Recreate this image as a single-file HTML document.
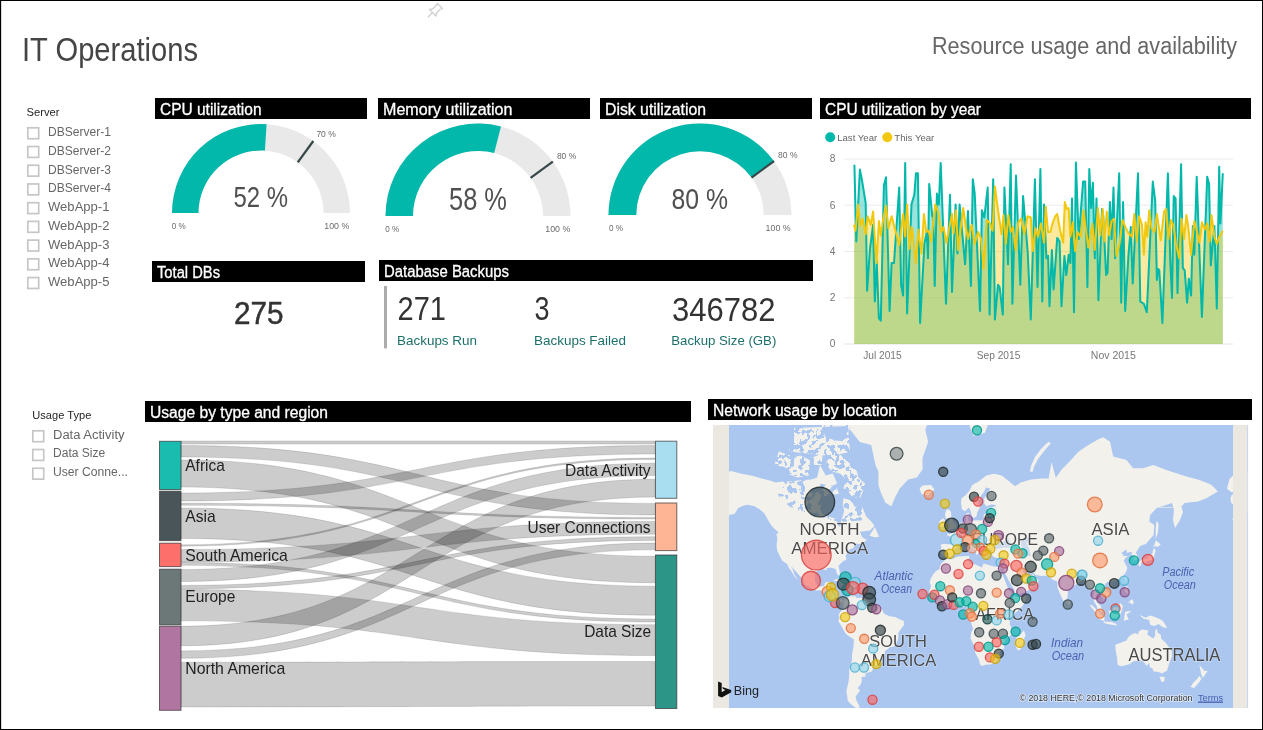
<!DOCTYPE html>
<html><head><meta charset="utf-8"><title>IT Operations</title>
<style>
html,body{margin:0;padding:0;background:#fff;overflow:hidden}
svg{display:block;font-family:"Liberation Sans", sans-serif;will-change:transform}
</style></head><body>
<svg width="1263" height="730" viewBox="0 0 1263 730">
<rect width="1263" height="730" fill="#fff"/>
<text x="22" y="61" font-size="32.8" fill="#454545" textLength="176" lengthAdjust="spacingAndGlyphs">IT Operations</text><text x="932" y="53.7" font-size="24.7" fill="#666" textLength="305" lengthAdjust="spacingAndGlyphs">Resource usage and availability</text><g stroke="#d0d0d0" stroke-width="1.3" fill="none" stroke-linejoin="round"><path d="M437.5,3.5 L442.5,8.5 L440,9.5 L436.5,13 L436,16 L429.5,9.5 L432.5,9 L436,5.5 Z"/><path d="M432.5,12.5 L428,17.3"/></g><text x="26.5" y="116" font-size="10.9" fill="#252423" textLength="33" lengthAdjust="spacingAndGlyphs">Server</text><rect x="27.8" y="127.80" width="10.9" height="10.9" fill="none" stroke="#c6c6c6" stroke-width="1.7"/><text x="48" y="136.3" font-size="12.5" fill="#666" textLength="63" lengthAdjust="spacingAndGlyphs">DBServer-1</text><rect x="27.8" y="146.52" width="10.9" height="10.9" fill="none" stroke="#c6c6c6" stroke-width="1.7"/><text x="48" y="155.02" font-size="12.5" fill="#666" textLength="63" lengthAdjust="spacingAndGlyphs">DBServer-2</text><rect x="27.8" y="165.24" width="10.9" height="10.9" fill="none" stroke="#c6c6c6" stroke-width="1.7"/><text x="48" y="173.74" font-size="12.5" fill="#666" textLength="63" lengthAdjust="spacingAndGlyphs">DBServer-3</text><rect x="27.8" y="183.96" width="10.9" height="10.9" fill="none" stroke="#c6c6c6" stroke-width="1.7"/><text x="48" y="192.46" font-size="12.5" fill="#666" textLength="63" lengthAdjust="spacingAndGlyphs">DBServer-4</text><rect x="27.8" y="202.68" width="10.9" height="10.9" fill="none" stroke="#c6c6c6" stroke-width="1.7"/><text x="48" y="211.18" font-size="12.5" fill="#666" textLength="61.5" lengthAdjust="spacingAndGlyphs">WebApp-1</text><rect x="27.8" y="221.40" width="10.9" height="10.9" fill="none" stroke="#c6c6c6" stroke-width="1.7"/><text x="48" y="229.9" font-size="12.5" fill="#666" textLength="61.5" lengthAdjust="spacingAndGlyphs">WebApp-2</text><rect x="27.8" y="240.12" width="10.9" height="10.9" fill="none" stroke="#c6c6c6" stroke-width="1.7"/><text x="48" y="248.62" font-size="12.5" fill="#666" textLength="61.5" lengthAdjust="spacingAndGlyphs">WebApp-3</text><rect x="27.8" y="258.84" width="10.9" height="10.9" fill="none" stroke="#c6c6c6" stroke-width="1.7"/><text x="48" y="267.34" font-size="12.5" fill="#666" textLength="61.5" lengthAdjust="spacingAndGlyphs">WebApp-4</text><rect x="27.8" y="277.56" width="10.9" height="10.9" fill="none" stroke="#c6c6c6" stroke-width="1.7"/><text x="48" y="286.06" font-size="12.5" fill="#666" textLength="61.5" lengthAdjust="spacingAndGlyphs">WebApp-5</text><text x="32.3" y="418.6" font-size="11.2" fill="#252423" textLength="59" lengthAdjust="spacingAndGlyphs">Usage Type</text><rect x="32.8" y="430.80" width="10.9" height="10.9" fill="none" stroke="#c6c6c6" stroke-width="1.7"/><text x="53" y="438.7" font-size="12" fill="#666" textLength="71.5" lengthAdjust="spacingAndGlyphs">Data Activity</text><rect x="32.8" y="449.52" width="10.9" height="10.9" fill="none" stroke="#c6c6c6" stroke-width="1.7"/><text x="53" y="457.42" font-size="12" fill="#666" textLength="52.2" lengthAdjust="spacingAndGlyphs">Data Size</text><rect x="32.8" y="468.24" width="10.9" height="10.9" fill="none" stroke="#c6c6c6" stroke-width="1.7"/><text x="53" y="476.14" font-size="12" fill="#666" textLength="75" lengthAdjust="spacingAndGlyphs">User Conne...</text><rect x="155" y="98" width="212" height="21" fill="#000"/><text x="160" y="114.5" font-size="15.6" fill="#fff" textLength="101.5" lengthAdjust="spacingAndGlyphs" stroke="#fff" stroke-width="0.3">CPU utilization</text><rect x="378" y="98" width="212" height="21" fill="#000"/><text x="383" y="114.5" font-size="15.6" fill="#fff" textLength="129.5" lengthAdjust="spacingAndGlyphs" stroke="#fff" stroke-width="0.3">Memory utilization</text><rect x="600" y="98" width="212" height="21" fill="#000"/><text x="605" y="114.5" font-size="15.6" fill="#fff" textLength="101" lengthAdjust="spacingAndGlyphs" stroke="#fff" stroke-width="0.3">Disk utilization</text><rect x="820" y="98" width="431" height="21" fill="#000"/><text x="825" y="114.5" font-size="15.6" fill="#fff" textLength="156" lengthAdjust="spacingAndGlyphs" stroke="#fff" stroke-width="0.3">CPU utilization by year</text><rect x="152" y="261" width="213" height="21" fill="#000"/><text x="157" y="277.5" font-size="15.6" fill="#fff" textLength="63" lengthAdjust="spacingAndGlyphs" stroke="#fff" stroke-width="0.3">Total DBs</text><rect x="379" y="260" width="434" height="21" fill="#000"/><text x="384" y="276.5" font-size="15.6" fill="#fff" textLength="125" lengthAdjust="spacingAndGlyphs" stroke="#fff" stroke-width="0.3">Database Backups</text><rect x="145" y="401" width="546" height="21" fill="#000"/><text x="150" y="417.5" font-size="15.6" fill="#fff" textLength="178" lengthAdjust="spacingAndGlyphs" stroke="#fff" stroke-width="0.3">Usage by type and region</text><rect x="708" y="399" width="544" height="21" fill="#000"/><text x="713" y="415.5" font-size="15.6" fill="#fff" textLength="184" lengthAdjust="spacingAndGlyphs" stroke="#fff" stroke-width="0.3">Network usage by location</text><path d="M172.00,213.00 A89,89 0 0 1 350.00,213.00 L323.50,213.00 A62.5,62.5 0 0 0 198.50,213.00 Z" fill="#e9e9e9"/><path d="M172.00,213.00 A89,89 0 0 1 266.59,124.18 L264.92,150.62 A62.5,62.5 0 0 0 198.50,213.00 Z" fill="#01b8aa"/><line x1="297.74" y1="162.44" x2="313.31" y2="141.00" stroke="#374649" stroke-width="2.2"/><path d="M385.50,216.00 A92.5,92.5 0 0 1 570.50,216.00 L543.00,216.00 A65,65 0 0 0 413.00,216.00 Z" fill="#e9e9e9"/><path d="M385.50,216.00 A92.5,92.5 0 0 1 501.00,126.41 L494.16,153.04 A65,65 0 0 0 413.00,216.00 Z" fill="#01b8aa"/><line x1="530.59" y1="177.79" x2="552.83" y2="161.63" stroke="#374649" stroke-width="2.2"/><path d="M608.50,215.00 A91.5,91.5 0 0 1 791.50,215.00 L763.70,215.00 A63.7,63.7 0 0 0 636.30,215.00 Z" fill="#e9e9e9"/><path d="M608.50,215.00 A91.5,91.5 0 0 1 774.03,161.22 L751.53,177.56 A63.7,63.7 0 0 0 636.30,215.00 Z" fill="#01b8aa"/><line x1="751.53" y1="177.56" x2="774.03" y2="161.22" stroke="#374649" stroke-width="2.2"/><text x="233.5" y="206.5" font-size="29.8" fill="#505050" textLength="54.5" lengthAdjust="spacingAndGlyphs">52 %</text><text x="449" y="209.6" font-size="30.5" fill="#505050" textLength="58" lengthAdjust="spacingAndGlyphs">58 %</text><text x="671.5" y="208.9" font-size="30" fill="#505050" textLength="56.5" lengthAdjust="spacingAndGlyphs">80 %</text><text x="316.4" y="136.9" font-size="8.8" fill="#6a6a6a" textLength="19.4" lengthAdjust="spacingAndGlyphs">70 %</text><text x="556.9" y="159.2" font-size="8.8" fill="#6a6a6a" textLength="19.4" lengthAdjust="spacingAndGlyphs">80 %</text><text x="778.1" y="157.8" font-size="8.8" fill="#6a6a6a" textLength="19.4" lengthAdjust="spacingAndGlyphs">80 %</text><text x="171.8" y="228.7" font-size="8.8" fill="#6a6a6a" textLength="14" lengthAdjust="spacingAndGlyphs">0 %</text><text x="349.3" y="228.7" font-size="8.8" fill="#6a6a6a" textLength="25" lengthAdjust="spacingAndGlyphs" text-anchor="end">100 %</text><text x="385.3" y="232" font-size="8.8" fill="#6a6a6a" textLength="14" lengthAdjust="spacingAndGlyphs">0 %</text><text x="570.3" y="232" font-size="8.8" fill="#6a6a6a" textLength="25" lengthAdjust="spacingAndGlyphs" text-anchor="end">100 %</text><text x="608.9" y="231" font-size="8.8" fill="#6a6a6a" textLength="14" lengthAdjust="spacingAndGlyphs">0 %</text><text x="790.6" y="231" font-size="8.8" fill="#6a6a6a" textLength="25" lengthAdjust="spacingAndGlyphs" text-anchor="end">100 %</text><text x="234" y="323.6" font-size="31" fill="#333" textLength="49.5" lengthAdjust="spacingAndGlyphs" stroke="#333" stroke-width="0.5">275</text><rect x="384" y="286" width="3" height="62.4" fill="#acacac"/><text x="397.5" y="320.4" font-size="32.8" fill="#333" textLength="48.5" lengthAdjust="spacingAndGlyphs">271</text><text x="534.5" y="320.4" font-size="32.8" fill="#333" textLength="15" lengthAdjust="spacingAndGlyphs">3</text><text x="672" y="320.6" font-size="32.8" fill="#333" textLength="103.5" lengthAdjust="spacingAndGlyphs">346782</text><text x="397" y="344.7" font-size="13.5" fill="#1d6f69" textLength="80" lengthAdjust="spacingAndGlyphs">Backups Run</text><text x="534" y="344.7" font-size="13.5" fill="#1d6f69" textLength="92" lengthAdjust="spacingAndGlyphs">Backups Failed</text><text x="671.3" y="344.9" font-size="13.5" fill="#1d6f69" textLength="105" lengthAdjust="spacingAndGlyphs">Backup Size (GB)</text><line x1="844" y1="159.0" x2="1233" y2="159.0" stroke="#ececec" stroke-width="1"/><line x1="844" y1="205.2" x2="1233" y2="205.2" stroke="#ececec" stroke-width="1"/><line x1="844" y1="251.5" x2="1233" y2="251.5" stroke="#ececec" stroke-width="1"/><line x1="844" y1="297.8" x2="1233" y2="297.8" stroke="#ececec" stroke-width="1"/><line x1="844" y1="344.0" x2="1233" y2="344.0" stroke="#e4e4e4" stroke-width="1"/><path d="M854.4,344.0 L854.4,164.8 L856.3,241.5 L859.9,169.6 L861.6,178.0 L865.7,203.2 L867.1,290.7 L870.0,248.7 L873.1,224.7 L874.8,301.5 L876.7,260.7 L878.9,318.2 L880.8,320.6 L883.9,185.2 L886.0,177.3 L889.6,311.0 L891.6,263.1 L894.0,263.1 L899.2,187.6 L901.1,284.7 L903.1,295.5 L905.2,162.9 L907.1,313.4 L911.5,204.4 L914.3,194.8 L916.0,173.2 L917.9,173.2 L920.1,323.0 L924.4,243.9 L926.8,232.0 L928.0,258.3 L929.2,184.0 L932.3,216.3 L933.3,215.0 L934.7,285.9 L936.9,193.6 L938.8,204.4 L940.7,162.9 L946.0,303.8 L950.0,194.8 L952.0,291.9 L955.6,204.4 L957.5,253.5 L959.6,204.4 L965.1,264.3 L968.0,211.0 L970.9,285.9 L972.8,179.2 L974.7,193.6 L980.0,311.0 L981.9,210.3 L984.3,217.5 L987.7,187.6 L989.6,314.6 L993.2,179.2 L994.9,319.4 L998.0,284.7 L999.6,287.0 L1002.8,314.6 L1004.4,187.6 L1008.0,264.3 L1010.7,164.3 L1012.4,303.8 L1016.0,175.6 L1020.3,284.7 L1023.1,196.0 L1027.7,252.0 L1030.8,319.4 L1034.9,179.2 L1037.5,287.0 L1040.4,169.1 L1042.3,301.5 L1044.0,204.4 L1046.4,258.3 L1048.1,255.9 L1049.5,306.2 L1051.9,249.9 L1053.6,289.5 L1057.2,237.9 L1059.6,241.5 L1061.5,306.2 L1064.4,255.9 L1066.3,275.1 L1068.7,254.7 L1070.4,263.1 L1072.0,198.4 L1074.0,312.2 L1075.9,162.4 L1078.7,239.1 L1083.1,181.6 L1085.2,181.6 L1087.4,287.1 L1089.3,169.1 L1091.1,208.0 L1092.9,182.8 L1094.8,258.3 L1096.5,198.4 L1098.4,300.3 L1102.0,209.1 L1103.2,215.1 L1106.1,275.1 L1107.5,272.7 L1109.9,202.0 L1111.6,239.1 L1113.5,187.6 L1115.2,258.3 L1119.2,173.2 L1121.2,302.7 L1123.1,202.0 L1125.2,311.0 L1128.4,255.9 L1130.8,227.1 L1132.7,283.5 L1138.0,173.2 L1140.3,301.5 L1143.9,303.8 L1146.8,312.2 L1152.8,181.6 L1155.2,200.8 L1156.9,279.9 L1158.3,269.1 L1159.3,270.3 L1162.4,323.0 L1167.9,173.2 L1170.3,261.9 L1172.0,297.9 L1173.7,196.0 L1175.6,198.4 L1177.5,293.1 L1181.1,164.3 L1182.8,267.9 L1184.7,270.3 L1187.1,302.7 L1188.8,278.7 L1191.1,295.5 L1192.8,225.9 L1194.3,254.7 L1196.7,176.8 L1200.0,267.9 L1201.9,317.0 L1207.2,176.8 L1209.1,184.0 L1210.8,265.5 L1214.4,225.9 L1216.8,308.6 L1219.2,166.7 L1220.4,223.5 L1222.8,173.2 L1222.8,344.0 Z" fill="#01b8aa" fill-opacity="0.4"/><path d="M853.9,344.0 L853.9,224.7 L855.6,230.7 L858.0,204.4 L860.4,225.9 L862.8,218.7 L865.7,234.3 L867.6,216.3 L870.7,224.7 L873.1,211.5 L876.5,263.1 L878.9,221.1 L880.8,235.5 L883.2,218.7 L886.0,205.6 L888.4,228.3 L891.6,216.3 L896.4,234.3 L899.2,245.1 L903.1,213.9 L905.2,236.7 L907.1,204.4 L909.5,248.7 L911.5,227.1 L912.4,229.5 L916.0,263.1 L918.4,229.5 L921.5,253.5 L923.9,213.9 L926.3,231.9 L928.7,230.7 L931.1,241.5 L935.2,204.4 L938.3,212.7 L941.2,231.9 L943.6,227.1 L946.4,242.7 L952.0,213.9 L953.6,233.1 L956.0,210.3 L958.0,249.9 L960.3,231.9 L963.2,208.0 L966.3,229.5 L968.0,239.1 L971.6,224.7 L974.7,243.9 L978.1,231.9 L981.2,239.1 L983.6,269.1 L986.7,219.9 L990.1,223.5 L992.5,230.7 L994.9,186.4 L997.2,204.4 L1001.6,234.3 L1003.5,215.1 L1005.9,243.9 L1008.3,215.1 L1010.7,231.9 L1013.1,227.1 L1015.5,249.9 L1018.3,222.3 L1021.2,218.7 L1024.3,234.3 L1027.5,216.3 L1030.8,217.5 L1032.7,251.1 L1035.6,228.3 L1038.0,236.7 L1040.9,223.5 L1044.0,242.7 L1045.7,206.8 L1048.1,231.9 L1050.5,231.9 L1052.4,223.5 L1055.2,216.3 L1057.2,213.9 L1060.0,229.5 L1063.2,242.7 L1064.8,202.0 L1066.8,209.1 L1068.7,208.0 L1070.4,236.7 L1072.8,222.3 L1075.1,251.1 L1077.5,231.9 L1080.7,236.7 L1083.5,210.3 L1085.9,229.5 L1088.3,247.5 L1092.4,223.5 L1094.8,249.9 L1097.9,208.0 L1100.3,235.5 L1102.7,209.1 L1104.4,241.5 L1106.8,211.5 L1109.2,235.5 L1111.6,221.1 L1114.0,218.7 L1116.4,255.9 L1119.5,243.9 L1122.4,219.9 L1126.0,228.3 L1128.4,233.1 L1132.0,236.7 L1134.3,213.9 L1136.7,241.5 L1139.1,216.3 L1142.0,224.7 L1143.9,254.7 L1145.6,222.3 L1147.3,236.7 L1149.2,210.3 L1151.6,228.3 L1154.5,231.9 L1156.9,213.9 L1160.7,240.3 L1164.1,211.5 L1166.0,209.1 L1168.4,239.1 L1170.8,219.9 L1173.2,224.7 L1176.0,243.9 L1179.2,258.3 L1181.6,218.7 L1184.0,239.1 L1186.4,215.1 L1188.0,224.7 L1191.1,254.7 L1194.3,221.1 L1196.7,230.7 L1199.5,242.7 L1201.9,222.3 L1204.8,229.5 L1207.2,223.5 L1209.6,241.5 L1211.5,215.1 L1214.4,236.7 L1216.8,243.9 L1219.2,236.7 L1222.8,230.7 L1222.8,344.0 Z" fill="#f2c80f" fill-opacity="0.4"/><path d="M854.4,164.8 L856.3,241.5 L859.9,169.6 L861.6,178.0 L865.7,203.2 L867.1,290.7 L870.0,248.7 L873.1,224.7 L874.8,301.5 L876.7,260.7 L878.9,318.2 L880.8,320.6 L883.9,185.2 L886.0,177.3 L889.6,311.0 L891.6,263.1 L894.0,263.1 L899.2,187.6 L901.1,284.7 L903.1,295.5 L905.2,162.9 L907.1,313.4 L911.5,204.4 L914.3,194.8 L916.0,173.2 L917.9,173.2 L920.1,323.0 L924.4,243.9 L926.8,232.0 L928.0,258.3 L929.2,184.0 L932.3,216.3 L933.3,215.0 L934.7,285.9 L936.9,193.6 L938.8,204.4 L940.7,162.9 L946.0,303.8 L950.0,194.8 L952.0,291.9 L955.6,204.4 L957.5,253.5 L959.6,204.4 L965.1,264.3 L968.0,211.0 L970.9,285.9 L972.8,179.2 L974.7,193.6 L980.0,311.0 L981.9,210.3 L984.3,217.5 L987.7,187.6 L989.6,314.6 L993.2,179.2 L994.9,319.4 L998.0,284.7 L999.6,287.0 L1002.8,314.6 L1004.4,187.6 L1008.0,264.3 L1010.7,164.3 L1012.4,303.8 L1016.0,175.6 L1020.3,284.7 L1023.1,196.0 L1027.7,252.0 L1030.8,319.4 L1034.9,179.2 L1037.5,287.0 L1040.4,169.1 L1042.3,301.5 L1044.0,204.4 L1046.4,258.3 L1048.1,255.9 L1049.5,306.2 L1051.9,249.9 L1053.6,289.5 L1057.2,237.9 L1059.6,241.5 L1061.5,306.2 L1064.4,255.9 L1066.3,275.1 L1068.7,254.7 L1070.4,263.1 L1072.0,198.4 L1074.0,312.2 L1075.9,162.4 L1078.7,239.1 L1083.1,181.6 L1085.2,181.6 L1087.4,287.1 L1089.3,169.1 L1091.1,208.0 L1092.9,182.8 L1094.8,258.3 L1096.5,198.4 L1098.4,300.3 L1102.0,209.1 L1103.2,215.1 L1106.1,275.1 L1107.5,272.7 L1109.9,202.0 L1111.6,239.1 L1113.5,187.6 L1115.2,258.3 L1119.2,173.2 L1121.2,302.7 L1123.1,202.0 L1125.2,311.0 L1128.4,255.9 L1130.8,227.1 L1132.7,283.5 L1138.0,173.2 L1140.3,301.5 L1143.9,303.8 L1146.8,312.2 L1152.8,181.6 L1155.2,200.8 L1156.9,279.9 L1158.3,269.1 L1159.3,270.3 L1162.4,323.0 L1167.9,173.2 L1170.3,261.9 L1172.0,297.9 L1173.7,196.0 L1175.6,198.4 L1177.5,293.1 L1181.1,164.3 L1182.8,267.9 L1184.7,270.3 L1187.1,302.7 L1188.8,278.7 L1191.1,295.5 L1192.8,225.9 L1194.3,254.7 L1196.7,176.8 L1200.0,267.9 L1201.9,317.0 L1207.2,176.8 L1209.1,184.0 L1210.8,265.5 L1214.4,225.9 L1216.8,308.6 L1219.2,166.7 L1220.4,223.5 L1222.8,173.2" fill="none" stroke="#01b8aa" stroke-width="2" stroke-linejoin="round"/><path d="M853.9,224.7 L855.6,230.7 L858.0,204.4 L860.4,225.9 L862.8,218.7 L865.7,234.3 L867.6,216.3 L870.7,224.7 L873.1,211.5 L876.5,263.1 L878.9,221.1 L880.8,235.5 L883.2,218.7 L886.0,205.6 L888.4,228.3 L891.6,216.3 L896.4,234.3 L899.2,245.1 L903.1,213.9 L905.2,236.7 L907.1,204.4 L909.5,248.7 L911.5,227.1 L912.4,229.5 L916.0,263.1 L918.4,229.5 L921.5,253.5 L923.9,213.9 L926.3,231.9 L928.7,230.7 L931.1,241.5 L935.2,204.4 L938.3,212.7 L941.2,231.9 L943.6,227.1 L946.4,242.7 L952.0,213.9 L953.6,233.1 L956.0,210.3 L958.0,249.9 L960.3,231.9 L963.2,208.0 L966.3,229.5 L968.0,239.1 L971.6,224.7 L974.7,243.9 L978.1,231.9 L981.2,239.1 L983.6,269.1 L986.7,219.9 L990.1,223.5 L992.5,230.7 L994.9,186.4 L997.2,204.4 L1001.6,234.3 L1003.5,215.1 L1005.9,243.9 L1008.3,215.1 L1010.7,231.9 L1013.1,227.1 L1015.5,249.9 L1018.3,222.3 L1021.2,218.7 L1024.3,234.3 L1027.5,216.3 L1030.8,217.5 L1032.7,251.1 L1035.6,228.3 L1038.0,236.7 L1040.9,223.5 L1044.0,242.7 L1045.7,206.8 L1048.1,231.9 L1050.5,231.9 L1052.4,223.5 L1055.2,216.3 L1057.2,213.9 L1060.0,229.5 L1063.2,242.7 L1064.8,202.0 L1066.8,209.1 L1068.7,208.0 L1070.4,236.7 L1072.8,222.3 L1075.1,251.1 L1077.5,231.9 L1080.7,236.7 L1083.5,210.3 L1085.9,229.5 L1088.3,247.5 L1092.4,223.5 L1094.8,249.9 L1097.9,208.0 L1100.3,235.5 L1102.7,209.1 L1104.4,241.5 L1106.8,211.5 L1109.2,235.5 L1111.6,221.1 L1114.0,218.7 L1116.4,255.9 L1119.5,243.9 L1122.4,219.9 L1126.0,228.3 L1128.4,233.1 L1132.0,236.7 L1134.3,213.9 L1136.7,241.5 L1139.1,216.3 L1142.0,224.7 L1143.9,254.7 L1145.6,222.3 L1147.3,236.7 L1149.2,210.3 L1151.6,228.3 L1154.5,231.9 L1156.9,213.9 L1160.7,240.3 L1164.1,211.5 L1166.0,209.1 L1168.4,239.1 L1170.8,219.9 L1173.2,224.7 L1176.0,243.9 L1179.2,258.3 L1181.6,218.7 L1184.0,239.1 L1186.4,215.1 L1188.0,224.7 L1191.1,254.7 L1194.3,221.1 L1196.7,230.7 L1199.5,242.7 L1201.9,222.3 L1204.8,229.5 L1207.2,223.5 L1209.6,241.5 L1211.5,215.1 L1214.4,236.7 L1216.8,243.9 L1219.2,236.7 L1222.8,230.7" fill="none" stroke="#f2c80f" stroke-width="2" stroke-linejoin="round"/><text x="835.5" y="162.3" font-size="10.2" fill="#777" text-anchor="end">8</text><text x="835.5" y="208.6" font-size="10.2" fill="#777" text-anchor="end">6</text><text x="835.5" y="254.8" font-size="10.2" fill="#777" text-anchor="end">4</text><text x="835.5" y="301.1" font-size="10.2" fill="#777" text-anchor="end">2</text><text x="835.5" y="347.3" font-size="10.2" fill="#777" text-anchor="end">0</text><text x="863.2" y="358.5" font-size="10.6" fill="#777" textLength="38.5" lengthAdjust="spacingAndGlyphs">Jul 2015</text><text x="976.8" y="358.5" font-size="10.6" fill="#777" textLength="43.5" lengthAdjust="spacingAndGlyphs">Sep 2015</text><text x="1090.8" y="358.5" font-size="10.6" fill="#777" textLength="45" lengthAdjust="spacingAndGlyphs">Nov 2015</text><circle cx="830.2" cy="137.2" r="5" fill="#01b8aa"/><circle cx="887.3" cy="137.2" r="5" fill="#f2c80f"/><text x="837.2" y="140.7" font-size="9.5" fill="#666" textLength="40" lengthAdjust="spacingAndGlyphs">Last Year</text><text x="894.3" y="140.7" font-size="9.5" fill="#666" textLength="40" lengthAdjust="spacingAndGlyphs">This Year</text><path d="M181.0,441.0 C418.0,441.0 418.0,441.0 655.0,441.0 L655.0,444.0 C418.0,444.0 418.0,444.0 181.0,444.0 Z" fill="#000" fill-opacity="0.2" stroke="#000" stroke-opacity="0.12" stroke-width="1"/><path d="M181.0,445.5 C418.0,445.5 418.0,503.4 655.0,503.4 L655.0,515.0 C418.0,515.0 418.0,457.0 181.0,457.0 Z" fill="#000" fill-opacity="0.2" stroke="#000" stroke-opacity="0.12" stroke-width="1"/><path d="M181.0,460.0 C418.0,460.0 418.0,556.3 655.0,556.3 L655.0,582.8 C418.0,582.8 418.0,487.0 181.0,487.0 Z" fill="#000" fill-opacity="0.2" stroke="#000" stroke-opacity="0.12" stroke-width="1"/><path d="M181.0,493.0 C418.0,493.0 418.0,445.5 655.0,445.5 L655.0,454.0 C418.0,454.0 418.0,501.0 181.0,501.0 Z" fill="#000" fill-opacity="0.2" stroke="#000" stroke-opacity="0.12" stroke-width="1"/><path d="M181.0,503.3 C418.0,503.3 418.0,517.4 655.0,517.4 L655.0,519.0 C418.0,519.0 418.0,505.3 181.0,505.3 Z" fill="#000" fill-opacity="0.2" stroke="#000" stroke-opacity="0.12" stroke-width="1"/><path d="M181.0,508.0 C418.0,508.0 418.0,586.2 655.0,586.2 L655.0,615.2 C418.0,615.2 418.0,538.4 181.0,538.4 Z" fill="#000" fill-opacity="0.2" stroke="#000" stroke-opacity="0.12" stroke-width="1"/><path d="M181.0,544.8 C418.0,544.8 418.0,458.0 655.0,458.0 L655.0,459.4 C418.0,459.4 418.0,546.2 181.0,546.2 Z" fill="#000" fill-opacity="0.2" stroke="#000" stroke-opacity="0.12" stroke-width="1"/><path d="M181.0,549.5 C418.0,549.5 418.0,521.5 655.0,521.5 L655.0,534.2 C418.0,534.2 418.0,562.0 181.0,562.0 Z" fill="#000" fill-opacity="0.2" stroke="#000" stroke-opacity="0.12" stroke-width="1"/><path d="M181.0,562.5 C418.0,562.5 418.0,619.0 655.0,619.0 L655.0,622.0 C418.0,622.0 418.0,565.3 181.0,565.3 Z" fill="#000" fill-opacity="0.2" stroke="#000" stroke-opacity="0.12" stroke-width="1"/><path d="M181.0,569.6 C418.0,569.6 418.0,463.2 655.0,463.2 L655.0,475.5 C418.0,475.5 418.0,581.5 181.0,581.5 Z" fill="#000" fill-opacity="0.2" stroke="#000" stroke-opacity="0.12" stroke-width="1"/><path d="M181.0,585.4 C418.0,585.4 418.0,536.7 655.0,536.7 L655.0,540.4 C418.0,540.4 418.0,588.8 181.0,588.8 Z" fill="#000" fill-opacity="0.2" stroke="#000" stroke-opacity="0.12" stroke-width="1"/><path d="M181.0,589.6 C418.0,589.6 418.0,624.7 655.0,624.7 L655.0,655.5 C418.0,655.5 418.0,620.8 181.0,620.8 Z" fill="#000" fill-opacity="0.2" stroke="#000" stroke-opacity="0.12" stroke-width="1"/><path d="M181.0,626.3 C418.0,626.3 418.0,479.2 655.0,479.2 L655.0,497.0 C418.0,497.0 418.0,645.8 181.0,645.8 Z" fill="#000" fill-opacity="0.2" stroke="#000" stroke-opacity="0.12" stroke-width="1"/><path d="M181.0,650.9 C418.0,650.9 418.0,543.0 655.0,543.0 L655.0,549.8 C418.0,549.8 418.0,658.3 181.0,658.3 Z" fill="#000" fill-opacity="0.2" stroke="#000" stroke-opacity="0.12" stroke-width="1"/><path d="M181.0,662.2 C418.0,662.2 418.0,661.5 655.0,661.5 L655.0,706.0 C418.0,706.0 418.0,707.0 181.0,707.0 Z" fill="#000" fill-opacity="0.2" stroke="#000" stroke-opacity="0.12" stroke-width="1"/><rect x="159.5" y="441.3" width="21.5" height="48.2" fill="#1abcb0" stroke="#333" stroke-opacity="0.7" stroke-width="1"/><rect x="159.5" y="491.2" width="21.5" height="49.4" fill="#4a5559" stroke="#333" stroke-opacity="0.7" stroke-width="1"/><rect x="159.5" y="543.2" width="21.5" height="23.4" fill="#fd6f6b" stroke="#333" stroke-opacity="0.7" stroke-width="1"/><rect x="159.5" y="569.2" width="21.5" height="55.6" fill="#6c7778" stroke="#333" stroke-opacity="0.7" stroke-width="1"/><rect x="159.5" y="626.2" width="21.5" height="84.1" fill="#b175a2" stroke="#333" stroke-opacity="0.7" stroke-width="1"/><rect x="655.5" y="441.2" width="21.3" height="57.1" fill="#a9ddf0" stroke="#333" stroke-opacity="0.7" stroke-width="1"/><rect x="655.5" y="503.0" width="21.3" height="47.6" fill="#fdb596" stroke="#333" stroke-opacity="0.7" stroke-width="1"/><rect x="655.5" y="555.0" width="21.3" height="153.5" fill="#2d9488" stroke="#333" stroke-opacity="0.7" stroke-width="1"/><text x="185.3" y="470.6" font-size="16.6" fill="#222" textLength="39.5" lengthAdjust="spacingAndGlyphs">Africa</text><text x="185.3" y="521.5" font-size="16.6" fill="#222" textLength="30.5" lengthAdjust="spacingAndGlyphs">Asia</text><text x="185.3" y="560.8" font-size="16.6" fill="#222" textLength="102.5" lengthAdjust="spacingAndGlyphs">South America</text><text x="185.3" y="602.1" font-size="16.6" fill="#222" textLength="50" lengthAdjust="spacingAndGlyphs">Europe</text><text x="185.3" y="674.0" font-size="16.6" fill="#222" textLength="100" lengthAdjust="spacingAndGlyphs">North America</text><text x="650.5" y="476.0" font-size="16.6" fill="#222" text-anchor="end" textLength="85.5" lengthAdjust="spacingAndGlyphs">Data Activity</text><text x="650.5" y="533.0" font-size="16.6" fill="#222" text-anchor="end" textLength="123" lengthAdjust="spacingAndGlyphs">User Connections</text><text x="651.2" y="636.9" font-size="16.6" fill="#222" text-anchor="end" textLength="67" lengthAdjust="spacingAndGlyphs">Data Size</text><defs><filter id="frag" color-interpolation-filters="sRGB" filterUnits="userSpaceOnUse" x="713" y="425" width="535" height="283"><feTurbulence type="fractalNoise" baseFrequency="0.2" numOctaves="2" seed="4" result="n"/><feColorMatrix in="n" type="matrix" values="0 0 0 0 0.953 0 0 0 0 0.945 0 0 0 0 0.925 50 0 0 0 -22.5" result="m"/><feComposite in="m" in2="SourceGraphic" operator="in" result="c"/><feGaussianBlur in="c" stdDeviation="0.5"/></filter><filter id="lakes" color-interpolation-filters="sRGB" filterUnits="userSpaceOnUse" x="713" y="425" width="535" height="283"><feTurbulence type="fractalNoise" baseFrequency="0.16" numOctaves="2" seed="9" result="n"/><feColorMatrix in="n" type="matrix" values="0 0 0 0 0.671 0 0 0 0 0.780 0 0 0 0 0.941 50 0 0 0 -27.5" result="m"/><feComposite in="m" in2="SourceGraphic" operator="in" result="c"/><feGaussianBlur in="c" stdDeviation="0.45"/></filter><filter id="soft" x="-2%" y="-2%" width="104%" height="104%"><feGaussianBlur stdDeviation="0.55"/></filter><clipPath id="mapclip"><rect x="713" y="425" width="535" height="283"/></clipPath></defs><g clip-path="url(#mapclip)"><rect x="713" y="425" width="535" height="283" fill="#abc7f0"/><g filter="url(#soft)"><path d="M714.8,488.5 L717.6,478.7 L723.3,473.2 L731.1,471.1 L740.4,473.6 L753.2,476.0 L761.7,478.4 L768.8,480.3 L775.9,482.5 L783.0,481.4 L790.2,481.4 L800.1,480.3 L811.5,479.5 L817.2,477.6 L820.0,465.1 L825.7,475.6 L832.8,473.6 L837.1,483.2 L831.4,486.8 L828.6,493.5 L822.9,499.8 L820.0,508.5 L822.2,513.8 L828.6,516.4 L836.4,518.9 L837.1,523.8 L840.0,527.3 L841.4,520.2 L844.2,511.2 L842.8,504.2 L843.5,498.3 L851.3,500.4 L854.9,507.1 L861.3,504.8 L866.3,516.4 L871.2,521.4 L874.5,526.1 L869.8,530.6 L859.9,531.7 L862.0,537.1 L867.0,540.2 L859.9,544.1 L854.2,543.6 L854.2,547.6 L848.5,549.9 L845.6,556.3 L846.4,559.4 L842.8,561.5 L838.5,565.7 L840.0,573.1 L839.4,575.9 L837.1,573.9 L835.7,569.1 L831.4,567.7 L826.4,567.9 L826.9,569.9 L820.0,568.9 L815.5,572.0 L815.1,577.8 L815.1,581.7 L817.2,585.5 L819.3,586.7 L824.3,585.9 L825.0,582.4 L830.0,581.7 L828.6,587.0 L827.9,589.9 L834.3,590.2 L835.3,592.2 L835.0,597.3 L837.8,600.1 L841.4,599.4 L843.5,600.9 L843.9,601.9 L842.1,601.6 L840.0,602.6 L835.7,601.3 L831.8,598.7 L831.4,596.5 L829.3,594.3 L823.6,592.9 L820.0,589.9 L816.5,590.4 L811.5,588.5 L804.4,584.3 L803.7,580.9 L800.8,577.0 L796.6,572.3 L793.7,569.1 L790.9,565.7 L793.0,569.9 L794.4,574.7 L798.0,579.4 L794.4,576.6 L791.6,571.5 L788.7,567.4 L787.2,564.1 L782.3,560.7 L779.5,555.4 L777.1,550.3 L776.6,545.1 L777.4,538.7 L776.4,534.1 L778.8,532.8 L775.2,529.5 L771.7,526.1 L768.1,520.2 L764.6,513.8 L760.3,509.8 L754.6,506.2 L747.5,504.8 L743.2,505.7 L738.2,507.9 L734.7,513.8 L729.0,515.1 L723.3,518.9 L719.7,520.2 L724.7,515.1 L729.0,509.3 L723.3,506.0 L719.0,502.8 L718.3,498.3 L719.7,495.1 L724.7,491.9 L719.0,491.9Z M849.9,429.4 L859.9,405.8 L868.4,396.2 L896.9,379.2 L922.5,390.9 L936.7,401.1 L925.3,429.4 L928.1,442.1 L922.5,458.1 L922.5,469.5 L916.8,477.6 L908.2,479.5 L899.7,488.5 L895.4,496.7 L891.3,506.2 L885.5,502.8 L881.2,493.5 L878.4,485.0 L878.4,471.6 L875.5,465.1 L871.2,445.0 L859.9,442.1Z M919.6,488.5 L922.5,485.4 L931.0,485.0 L934.5,489.5 L928.1,495.5 L921.7,494.2Z M843.8,600.9 L846.4,598.0 L849.9,596.5 L852.0,595.2 L852.3,597.3 L854.2,595.5 L857.0,598.0 L862.7,597.8 L866.3,598.0 L867.7,600.9 L872.0,604.4 L876.9,604.7 L880.5,606.9 L882.6,610.4 L883.3,613.0 L885.5,614.4 L890.4,616.6 L895.4,617.1 L900.4,619.8 L903.7,620.8 L904.0,625.1 L901.1,628.7 L898.4,632.4 L898.3,638.3 L896.1,643.6 L894.0,646.6 L890.4,647.1 L884.8,651.3 L884.5,655.3 L881.2,659.4 L878.4,663.6 L875.5,666.2 L872.0,666.2 L873.1,668.8 L871.7,671.5 L865.6,673.3 L865.3,676.7 L861.3,677.0 L862.0,679.9 L860.6,684.8 L857.7,687.9 L860.1,690.6 L855.6,696.5 L856.5,700.8 L859.9,707.1 L857.0,708.6 L852.8,705.8 L847.8,701.1 L846.4,691.0 L848.5,681.9 L849.2,675.2 L849.2,669.7 L852.0,661.1 L852.0,654.5 L853.5,646.6 L853.9,639.5 L847.1,635.0 L844.9,632.4 L842.1,627.3 L840.0,623.7 L838.2,620.8 L839.5,618.0 L838.7,615.1 L840.0,612.3 L841.7,610.4 L843.5,608.0 L843.6,603.7 L842.9,602.6Z M945.4,558.4 L950.9,559.6 L958.0,556.6 L968.0,555.9 L969.5,556.3 L968.4,560.7 L969.4,562.7 L975.4,564.4 L981.9,567.4 L983.6,563.6 L989.3,565.2 L995.0,566.7 L1000.0,566.2 L1002.4,566.1 L1003.4,569.1 L1000.0,568.4 L1001.4,573.1 L1004.2,578.6 L1006.8,585.5 L1009.2,590.2 L1012.8,594.3 L1015.3,596.4 L1020.6,597.0 L1026.6,596.1 L1026.3,598.1 L1024.2,603.7 L1022.0,606.6 L1018.5,610.2 L1013.5,614.4 L1010.9,617.0 L1009.5,620.1 L1009.9,624.4 L1011.4,628.0 L1011.4,634.6 L1006.1,639.0 L1003.5,643.6 L1004.2,648.2 L1000.4,651.3 L1000.0,655.3 L997.8,657.8 L993.6,662.8 L990.2,664.5 L985.0,664.8 L982.2,665.9 L979.9,664.5 L979.2,660.3 L975.4,652.9 L974.4,645.9 L970.5,638.3 L971.2,632.4 L973.1,628.7 L970.8,621.6 L967.3,615.8 L967.3,611.6 L967.7,607.6 L965.8,606.6 L962.3,606.9 L960.2,604.2 L955.2,604.4 L950.9,606.2 L947.3,605.6 L943.1,606.7 L940.2,605.2 L936.0,602.3 L934.8,600.1 L932.4,597.5 L930.0,595.1 L928.9,591.9 L930.3,588.8 L931.0,585.5 L929.6,582.4 L931.0,578.3 L933.1,574.4 L935.3,571.8 L939.5,569.1 L940.0,566.2 L941.7,562.7 L944.1,561.2Z M1023.9,630.2 L1025.6,635.3 L1024.6,637.5 L1023.2,642.8 L1020.9,649.0 L1018.0,650.5 L1016.1,647.4 L1015.3,644.3 L1016.9,641.3 L1016.3,637.5 L1019.6,635.6 L1022.0,632.7Z M945.8,558.0 L944.5,556.5 L943.1,555.9 L941.1,556.3 L941.2,553.2 L940.2,553.0 L941.4,549.0 L941.1,546.1 L940.5,545.1 L943.1,543.8 L948.1,544.3 L951.6,544.3 L952.0,541.6 L952.0,538.7 L950.5,536.7 L947.3,535.2 L947.1,533.7 L951.6,533.5 L951.9,531.3 L954.0,531.9 L955.9,530.4 L957.3,528.2 L959.0,527.3 L960.4,524.0 L962.3,522.6 L965.8,522.3 L966.0,518.9 L965.3,514.9 L968.7,512.0 L968.7,515.9 L967.7,518.9 L969.4,521.4 L973.0,520.4 L977.2,520.2 L981.5,520.4 L983.9,518.4 L983.6,514.4 L987.2,513.8 L988.5,510.4 L987.2,507.9 L993.6,507.1 L996.4,505.7 L995.0,505.1 L991.4,504.5 L986.3,506.2 L984.2,503.4 L984.3,498.3 L989.3,490.2 L990.0,488.2 L985.8,487.5 L983.9,491.9 L980.8,496.1 L978.6,500.7 L978.4,504.2 L980.5,506.2 L977.2,512.5 L976.5,516.2 L973.9,517.9 L972.0,516.4 L970.5,510.4 L968.7,507.6 L965.1,511.2 L961.9,509.0 L960.9,502.8 L961.6,498.3 L965.8,495.1 L969.4,490.9 L972.2,485.0 L978.6,481.4 L986.3,475.6 L994.0,473.7 L1001.6,475.6 L1009.3,481.4 L1015.0,486.2 L1020.8,482.5 L1031.1,479.5 L1041.4,478.4 L1048.6,478.4 L1051.6,462.0 L1055.8,478.0 L1061.9,469.2 L1070.1,461.0 L1078.4,451.7 L1087.6,445.5 L1097.9,439.4 L1103.0,437.3 L1110.0,441.4 L1113.2,456.6 L1126.5,459.9 L1133.1,468.2 L1143.1,468.2 L1153.1,464.9 L1166.4,469.9 L1186.3,476.5 L1199.6,479.9 L1211.3,484.8 L1217.9,491.5 L1206.3,498.2 L1198.0,501.5 L1184.7,503.1 L1181.3,506.5 L1183.0,512.0 L1180.0,520.0 L1175.0,528.0 L1173.0,520.0 L1174.0,510.0 L1172.0,503.0 L1160.0,507.0 L1174.2,507.6 L1170.0,507.9 L1157.2,507.6 L1150.1,515.1 L1149.3,521.4 L1154.3,524.9 L1153.6,535.0 L1150.1,539.1 L1145.8,544.1 L1140.1,546.1 L1138.2,549.0 L1135.8,552.7 L1137.7,556.3 L1138.0,559.3 L1133.7,560.8 L1133.7,556.3 L1131.6,554.5 L1132.0,551.7 L1126.6,552.7 L1126.6,549.3 L1121.6,552.7 L1123.7,555.9 L1128.0,555.9 L1125.2,558.0 L1123.7,560.7 L1125.9,564.9 L1127.3,567.4 L1126.6,570.7 L1123.7,575.5 L1120.2,578.6 L1115.2,580.4 L1110.9,582.1 L1110.7,583.7 L1107.4,581.7 L1105.2,584.0 L1104.1,586.2 L1106.0,589.2 L1108.8,593.6 L1109.1,596.5 L1105.5,598.3 L1103.1,600.7 L1102.8,598.0 L1099.6,595.5 L1097.1,593.8 L1095.3,598.0 L1096.7,602.3 L1098.1,603.3 L1100.8,606.2 L1102.0,611.0 L1101.0,611.2 L1097.7,609.0 L1096.4,605.2 L1093.9,601.6 L1093.4,597.3 L1094.3,590.7 L1092.4,589.2 L1088.2,589.9 L1087.9,586.2 L1085.0,582.9 L1083.9,580.1 L1080.4,581.2 L1076.8,583.7 L1074.0,586.1 L1070.4,589.2 L1067.8,591.1 L1067.8,594.3 L1067.3,598.3 L1064.0,601.4 L1062.6,599.4 L1059.7,592.9 L1057.6,587.7 L1057.3,582.4 L1056.9,581.2 L1053.3,580.1 L1051.2,578.6 L1048.3,575.6 L1041.9,575.9 L1035.3,575.0 L1034.0,572.8 L1030.6,573.6 L1027.0,571.6 L1024.9,568.2 L1022.0,568.2 L1022.7,571.2 L1026.0,576.3 L1027.0,577.5 L1033.8,574.0 L1034.1,577.0 L1038.8,580.1 L1037.0,583.2 L1036.0,585.5 L1032.0,587.7 L1028.0,590.4 L1022.7,592.9 L1017.8,594.6 L1015.6,594.8 L1014.6,591.4 L1014.2,589.2 L1009.2,581.7 L1006.7,576.6 L1003.8,571.5 L1003.4,569.1 L1002.4,566.1 L1004.2,562.4 L1005.0,558.4 L1002.8,556.6 L999.3,557.9 L995.7,557.7 L992.6,556.3 L991.0,551.7 L991.7,550.3 L990.7,549.3 L986.5,550.3 L987.9,554.5 L985.8,557.2 L983.9,554.8 L982.2,551.6 L981.3,547.4 L976.5,544.1 L973.1,540.0 L971.2,540.8 L973.7,546.1 L976.5,548.0 L980.1,550.5 L977.4,554.5 L975.9,554.5 L976.2,550.8 L973.7,549.0 L969.4,546.1 L966.1,542.4 L963.0,544.9 L958.3,544.7 L958.3,547.1 L954.9,549.0 L953.3,551.7 L953.8,553.4 L952.6,555.4 L950.6,556.8 L947.3,556.8Z M945.6,530.4 L955.7,527.9 L956.2,524.5 L954.0,522.6 L951.5,517.4 L950.9,512.3 L949.1,509.6 L946.6,509.6 L944.9,514.4 L945.9,518.2 L949.5,519.2 L949.2,522.8 L947.2,523.1 L947.8,525.4 L946.2,526.8 L948.8,527.5Z M945.2,525.6 L944.9,520.2 L943.1,518.2 L939.5,520.9 L939.1,526.6 L942.4,527.0Z M969.4,425.9 L976.5,414.4 L992.2,412.8 L985.0,432.7 L973.7,436.0Z M1030.0,471.5 L1031.0,466.0 L1035.0,457.0 L1041.0,449.0 L1048.0,442.0 L1051.0,443.0 L1045.0,450.0 L1038.0,459.0 L1034.0,467.0 L1032.5,472.0Z M1138.7,566.2 L1140.8,565.7 L1141.5,561.9 L1145.8,562.4 L1148.3,560.7 L1151.5,560.3 L1154.2,558.6 L1154.3,554.5 L1155.7,551.7 L1154.9,548.2 L1152.9,549.9 L1152.6,552.7 L1150.8,555.4 L1148.3,555.7 L1146.9,558.7 L1142.9,558.9 L1140.1,561.0 L1138.4,563.2Z M1152.9,548.0 L1155.0,546.1 L1157.9,547.1 L1160.7,544.5 L1159.3,543.2 L1155.7,540.2 L1155.0,543.2Z M1155.7,539.1 L1157.9,532.8 L1158.6,523.8 L1156.5,520.7 L1155.7,528.4Z M1124.7,580.1 L1125.9,575.9 L1127.3,576.3 L1125.9,580.9Z M1108.4,585.5 L1110.9,583.8 L1111.6,584.7 L1109.5,586.7Z M1125.2,586.2 L1127.6,586.2 L1127.3,589.2 L1130.1,594.3 L1127.3,593.6 L1125.3,592.4 L1124.5,589.9Z M1127.3,603.0 L1132.3,599.1 L1133.7,602.3 L1132.3,604.4 L1129.4,602.3Z M1108.8,610.9 L1110.2,617.0 L1115.9,618.4 L1119.5,615.8 L1121.6,611.6 L1123.0,605.9 L1120.2,603.0 L1118.0,605.9 L1112.4,609.4Z M1089.3,605.0 L1092.4,605.6 L1096.6,609.7 L1101.1,614.4 L1104.5,617.6 L1104.3,621.3 L1098.8,618.7 L1096.4,614.1 L1094.0,610.6Z M1103.4,622.7 L1104.5,621.4 L1111.4,622.1 L1116.6,624.0 L1116.6,625.4 L1107.4,624.1Z M1123.7,620.8 L1125.2,611.6 L1131.6,610.9 L1126.6,614.4 L1128.7,619.4Z M1140.1,615.1 L1145.8,617.8 L1150.1,615.4 L1154.3,616.7 L1160.7,619.4 L1163.6,621.8 L1167.1,628.0 L1162.9,627.3 L1158.6,624.0 L1154.3,626.0 L1150.1,624.7 L1149.3,620.1 L1143.7,618.7 L1141.5,617.0Z M1115.2,645.1 L1115.9,652.1 L1117.3,658.6 L1117.5,665.0 L1121.6,666.2 L1129.4,664.3 L1133.0,661.6 L1137.3,660.6 L1140.8,660.3 L1144.4,662.6 L1146.6,666.0 L1149.3,662.8 L1149.8,667.4 L1152.2,668.0 L1153.6,671.5 L1158.6,671.9 L1161.9,673.5 L1167.1,670.6 L1169.0,664.1 L1172.1,656.1 L1171.5,650.5 L1168.3,646.6 L1165.7,642.8 L1161.4,639.0 L1160.6,634.4 L1157.9,633.1 L1156.5,628.3 L1155.0,631.7 L1155.3,635.3 L1153.6,638.6 L1151.5,637.5 L1147.2,634.6 L1148.3,630.5 L1142.2,629.5 L1138.7,631.4 L1138.0,634.4 L1135.1,633.1 L1131.6,634.6 L1128.0,637.5 L1126.6,640.5 L1120.2,643.1 L1116.6,644.3Z M1159.6,676.5 L1164.7,676.9 L1164.3,681.3 L1161.4,682.0Z M1199.4,665.2 L1202.0,668.0 L1204.1,670.8 L1207.7,671.0 L1205.5,673.9 L1202.7,678.0 L1201.1,673.7Z M1199.4,676.1 L1201.5,678.4 L1199.4,681.9 L1197.0,684.8 L1194.2,688.1 L1190.6,686.9 L1193.2,682.8 L1197.0,678.9Z M1067.4,599.0 L1070.3,602.3 L1069.3,604.2 L1067.5,604.4Z M832.8,581.1 L837.1,579.1 L843.5,581.2 L848.2,583.7 L843.2,584.1 L837.8,580.9Z M847.9,586.2 L850.2,584.1 L856.5,586.1 L852.8,587.6Z M869.4,535.8 L874.8,527.0 L878.4,535.0 L878.9,537.1 L874.8,537.3Z M830.0,493.5 L839.2,495.1 L837.1,488.5Z M1226.9,488.5 L1229.7,478.7 L1235.4,473.2 L1243.2,471.1 L1252.5,473.6 L1265.3,476.0 L1273.8,478.4 L1280.9,480.3 L1288.0,482.5 L1295.2,481.4 L1302.3,481.4 L1312.2,480.3 L1323.6,479.5 L1329.3,477.6 L1332.1,465.1 L1337.8,475.6 L1344.9,473.6 L1349.2,483.2 L1343.5,486.8 L1340.7,493.5 L1335.0,499.8 L1332.1,508.5 L1334.3,513.8 L1340.7,516.4 L1348.5,518.9 L1349.2,523.8 L1352.0,527.3 L1353.5,520.2 L1356.3,511.2 L1354.9,504.2 L1355.6,498.3 L1363.4,500.4 L1367.0,507.1 L1373.4,504.8 L1378.4,516.4 L1383.3,521.4 L1386.6,526.1 L1381.9,530.6 L1372.0,531.7 L1374.1,537.1 L1379.1,540.2 L1372.0,544.1 L1366.3,543.6 L1366.3,547.6 L1360.6,549.9 L1357.7,556.3 L1358.5,559.4 L1354.9,561.5 L1350.6,565.7 L1352.0,573.1 L1351.5,575.9 L1349.2,573.9 L1347.8,569.1 L1343.5,567.7 L1338.5,567.9 L1339.0,569.9 L1332.1,568.9 L1327.6,572.0 L1327.2,577.8 L1327.2,581.7 L1329.3,585.5 L1331.4,586.7 L1336.4,585.9 L1337.1,582.4 L1342.1,581.7 L1340.7,587.0 L1340.0,589.9 L1346.4,590.2 L1347.4,592.2 L1347.1,597.3 L1349.9,600.1 L1353.5,599.4 L1355.6,600.9 L1356.0,601.9 L1354.2,601.6 L1352.0,602.6 L1347.8,601.3 L1343.9,598.7 L1343.5,596.5 L1341.4,594.3 L1335.7,592.9 L1332.1,589.9 L1328.6,590.4 L1323.6,588.5 L1316.5,584.3 L1315.8,580.9 L1312.9,577.0 L1308.7,572.3 L1305.8,569.1 L1303.0,565.7 L1305.1,569.9 L1306.5,574.7 L1310.1,579.4 L1306.5,576.6 L1303.7,571.5 L1300.8,567.4 L1299.3,564.1 L1294.4,560.7 L1291.6,555.4 L1289.2,550.3 L1288.7,545.1 L1289.5,538.7 L1288.5,534.1 L1290.9,532.8 L1287.3,529.5 L1283.8,526.1 L1280.2,520.2 L1276.7,513.8 L1272.4,509.8 L1266.7,506.2 L1259.6,504.8 L1255.3,505.7 L1250.3,507.9 L1246.8,513.8 L1241.1,515.1 L1235.4,518.9 L1231.8,520.2 L1236.8,515.1 L1241.1,509.3 L1235.4,506.0 L1231.1,502.8 L1230.4,498.3 L1231.8,495.1 L1236.8,491.9 L1231.1,491.9Z" fill="#f3f1ec"/><path d="M825.7,462.8 L831.4,455.6 L840.0,454.6 L851.3,465.1 L857.0,471.6 L858.4,477.6 L865.6,484.3 L862.0,493.5 L860.6,497.3 L852.8,497.7 L848.5,491.9 L842.8,491.9 L844.2,485.0 L848.5,481.4 L840.0,473.6 L831.4,471.6Z M825.7,439.1 L840.0,440.9 L847.1,432.7 L854.2,422.3 L864.1,401.1 L865.6,390.9 L847.1,385.3 L825.7,401.1 L818.6,414.4Z M817.2,442.1 L825.7,437.2 L840.0,442.1 L837.1,450.5 L822.9,450.5Z M811.5,458.1 L822.9,453.1 L821.5,465.1 L814.3,465.1Z M788.7,447.8 L804.4,442.1 L804.4,450.5 L790.2,451.5Z M784.5,465.1 L787.3,458.1 L801.5,455.6 L810.1,460.5 L808.7,475.6 L797.3,477.6 L787.3,473.6Z M774.5,465.1 L778.8,451.5 L790.2,455.6 L785.9,467.3Z M794.0,428.0 L848.0,426.0 L850.0,452.0 L830.0,456.0 L794.0,452.0Z" fill="#f3f1ec" filter="url(#frag)"/><path d="M778.0,481.0 L800.0,479.0 L815.0,483.0 L835.0,486.0 L862.0,494.0 L868.0,520.0 L840.0,522.0 L812.0,516.0 L790.0,507.0 L778.0,496.0Z" fill="#abc7f0" filter="url(#lakes)"/><path d="M993.3,547.1 L994.3,544.1 L996.4,540.2 L1001.4,542.2 L1005.7,540.6 L1007.8,537.1 L1009.9,542.2 L1012.9,547.8 L1005.0,547.6 L997.8,548.8 L995.0,548.6Z M1021.3,540.0 L1023.5,538.1 L1029.1,537.5 L1029.9,541.2 L1026.3,543.2 L1028.9,547.4 L1030.6,554.5 L1030.4,556.3 L1024.9,555.7 L1023.5,553.6 L1024.2,549.9 L1020.6,545.1Z" fill="#abc7f0" fill-opacity="0.5"/></g><rect x="713" y="425" width="16" height="283" fill="#ebe8e1"/><rect x="1233" y="425" width="14.5" height="283" fill="#ebe8e1"/><text x="799.5" y="534.5" font-size="17.4" fill="#4a4a4a" stroke="#fff" stroke-opacity="0.35" stroke-width="1.4" paint-order="stroke" textLength="60" lengthAdjust="spacingAndGlyphs">NORTH</text><text x="791.2" y="553.9" font-size="17.4" fill="#4a4a4a" stroke="#fff" stroke-opacity="0.35" stroke-width="1.4" paint-order="stroke" textLength="77" lengthAdjust="spacingAndGlyphs">AMERICA</text><text x="869.3" y="647" font-size="17.4" fill="#4a4a4a" stroke="#fff" stroke-opacity="0.35" stroke-width="1.4" paint-order="stroke" textLength="57.5" lengthAdjust="spacingAndGlyphs">SOUTH</text><text x="860.8" y="666.4" font-size="17.4" fill="#4a4a4a" stroke="#fff" stroke-opacity="0.35" stroke-width="1.4" paint-order="stroke" textLength="75.5" lengthAdjust="spacingAndGlyphs">AMERICA</text><text x="971.5" y="544.9" font-size="17.4" fill="#4a4a4a" stroke="#fff" stroke-opacity="0.35" stroke-width="1.4" paint-order="stroke" textLength="66.5" lengthAdjust="spacingAndGlyphs">EUROPE</text><text x="975.4" y="620.3" font-size="17.4" fill="#4a4a4a" stroke="#fff" stroke-opacity="0.35" stroke-width="1.4" paint-order="stroke" textLength="58.5" lengthAdjust="spacingAndGlyphs">AFRICA</text><text x="1091.4" y="535.2" font-size="17.4" fill="#4a4a4a" stroke="#fff" stroke-opacity="0.35" stroke-width="1.4" paint-order="stroke" textLength="38" lengthAdjust="spacingAndGlyphs">ASIA</text><text x="1128.4" y="661" font-size="19" fill="#4a4a4a" stroke="#fff" stroke-opacity="0.35" stroke-width="1.4" paint-order="stroke" textLength="92" lengthAdjust="spacingAndGlyphs">AUSTRALIA</text><text x="874.6" y="580.3" font-size="12.3" font-style="italic" fill="#4a62b0" textLength="38.5" lengthAdjust="spacingAndGlyphs">Atlantic</text><text x="881" y="593.1" font-size="12.3" font-style="italic" fill="#4a62b0" textLength="31" lengthAdjust="spacingAndGlyphs">Ocean</text><text x="1162.2" y="575.8" font-size="12.3" font-style="italic" fill="#4a62b0" textLength="32" lengthAdjust="spacingAndGlyphs">Pacific</text><text x="1163.8" y="588.6" font-size="12.3" font-style="italic" fill="#4a62b0" textLength="32" lengthAdjust="spacingAndGlyphs">Ocean</text><text x="1051.1" y="646.7" font-size="12.3" font-style="italic" fill="#4a62b0" textLength="32" lengthAdjust="spacingAndGlyphs">Indian</text><text x="1051.8" y="659.7" font-size="12.3" font-style="italic" fill="#4a62b0" textLength="32.4" lengthAdjust="spacingAndGlyphs">Ocean</text><circle cx="819.8" cy="502.1" r="14.85" fill="#374649" fill-opacity="0.66" stroke="#222b2d" stroke-opacity="0.85" stroke-width="1.3"/><circle cx="896.6" cy="453.8" r="6.35" fill="#7f8789" fill-opacity="0.62" stroke="#374649" stroke-opacity="0.85" stroke-width="1.3"/><circle cx="816.3" cy="555.1" r="14.85" fill="#fd625e" fill-opacity="0.62" stroke="#d9423e" stroke-opacity="0.85" stroke-width="1.3"/><circle cx="811.0" cy="580.7" r="9.45" fill="#fd625e" fill-opacity="0.62" stroke="#d9423e" stroke-opacity="0.85" stroke-width="1.3"/><circle cx="845.5" cy="577.7" r="5.75" fill="#01b8aa" fill-opacity="0.62" stroke="#01968b" stroke-opacity="0.85" stroke-width="1.3"/><circle cx="855.0" cy="583.0" r="5.55" fill="#8ad4eb" fill-opacity="0.62" stroke="#4fb0cc" stroke-opacity="0.85" stroke-width="1.3"/><circle cx="847.5" cy="590.0" r="5.55" fill="#01b8aa" fill-opacity="0.62" stroke="#01968b" stroke-opacity="0.85" stroke-width="1.3"/><circle cx="843.4" cy="584.1" r="6.05" fill="#374649" fill-opacity="0.66" stroke="#222b2d" stroke-opacity="0.85" stroke-width="1.3"/><circle cx="862.6" cy="588.6" r="5.55" fill="#fd625e" fill-opacity="0.62" stroke="#d9423e" stroke-opacity="0.85" stroke-width="1.3"/><circle cx="853.0" cy="588.0" r="6.35" fill="#fd625e" fill-opacity="0.62" stroke="#d9423e" stroke-opacity="0.85" stroke-width="1.3"/><circle cx="869.2" cy="592.7" r="6.35" fill="#374649" fill-opacity="0.66" stroke="#222b2d" stroke-opacity="0.85" stroke-width="1.3"/><circle cx="869.2" cy="599.6" r="6.35" fill="#374649" fill-opacity="0.66" stroke="#222b2d" stroke-opacity="0.85" stroke-width="1.3"/><circle cx="861.9" cy="605.1" r="4.55" fill="#8ad4eb" fill-opacity="0.62" stroke="#4fb0cc" stroke-opacity="0.85" stroke-width="1.3"/><circle cx="872.2" cy="607.8" r="4.55" fill="#374649" fill-opacity="0.66" stroke="#222b2d" stroke-opacity="0.85" stroke-width="1.3"/><circle cx="876.3" cy="609.2" r="4.55" fill="#a66999" fill-opacity="0.62" stroke="#85467a" stroke-opacity="0.85" stroke-width="1.3"/><circle cx="852.3" cy="609.9" r="5.05" fill="#a66999" fill-opacity="0.62" stroke="#85467a" stroke-opacity="0.85" stroke-width="1.3"/><circle cx="835.2" cy="603.0" r="4.55" fill="#fd625e" fill-opacity="0.62" stroke="#d9423e" stroke-opacity="0.85" stroke-width="1.3"/><circle cx="827.7" cy="592.0" r="5.55" fill="#fe9666" fill-opacity="0.62" stroke="#e0713f" stroke-opacity="0.85" stroke-width="1.3"/><circle cx="831.0" cy="587.3" r="4.55" fill="#f2c80f" fill-opacity="0.62" stroke="#c9a30a" stroke-opacity="0.85" stroke-width="1.3"/><circle cx="829.7" cy="596.2" r="5.55" fill="#8ad4eb" fill-opacity="0.62" stroke="#4fb0cc" stroke-opacity="0.85" stroke-width="1.3"/><circle cx="832.5" cy="594.8" r="6.05" fill="#f2c80f" fill-opacity="0.62" stroke="#c9a30a" stroke-opacity="0.85" stroke-width="1.3"/><circle cx="842.7" cy="603.0" r="6.35" fill="#5f6b6d" fill-opacity="0.66" stroke="#374649" stroke-opacity="0.85" stroke-width="1.3"/><circle cx="845.1" cy="617.1" r="4.55" fill="#f2c80f" fill-opacity="0.62" stroke="#c9a30a" stroke-opacity="0.85" stroke-width="1.3"/><circle cx="850.8" cy="628.1" r="4.55" fill="#fe9666" fill-opacity="0.62" stroke="#e0713f" stroke-opacity="0.85" stroke-width="1.3"/><circle cx="880.4" cy="630.3" r="5.05" fill="#374649" fill-opacity="0.66" stroke="#222b2d" stroke-opacity="0.85" stroke-width="1.3"/><circle cx="864.2" cy="638.8" r="4.55" fill="#fe9666" fill-opacity="0.62" stroke="#e0713f" stroke-opacity="0.85" stroke-width="1.3"/><circle cx="873.2" cy="648.6" r="4.55" fill="#8ad4eb" fill-opacity="0.62" stroke="#4fb0cc" stroke-opacity="0.85" stroke-width="1.3"/><circle cx="854.9" cy="667.5" r="4.55" fill="#8ad4eb" fill-opacity="0.62" stroke="#4fb0cc" stroke-opacity="0.85" stroke-width="1.3"/><circle cx="864.0" cy="667.5" r="4.55" fill="#8ad4eb" fill-opacity="0.62" stroke="#4fb0cc" stroke-opacity="0.85" stroke-width="1.3"/><circle cx="876.3" cy="664.1" r="4.55" fill="#f2c80f" fill-opacity="0.62" stroke="#c9a30a" stroke-opacity="0.85" stroke-width="1.3"/><circle cx="872.5" cy="699.7" r="4.55" fill="#fd625e" fill-opacity="0.62" stroke="#d9423e" stroke-opacity="0.85" stroke-width="1.3"/><circle cx="977.0" cy="430.3" r="4.55" fill="#01b8aa" fill-opacity="0.62" stroke="#01968b" stroke-opacity="0.85" stroke-width="1.3"/><circle cx="943.2" cy="471.8" r="4.55" fill="#374649" fill-opacity="0.66" stroke="#222b2d" stroke-opacity="0.85" stroke-width="1.3"/><circle cx="928.8" cy="494.7" r="4.55" fill="#fe9666" fill-opacity="0.62" stroke="#e0713f" stroke-opacity="0.85" stroke-width="1.3"/><circle cx="944.9" cy="503.6" r="4.55" fill="#f2c80f" fill-opacity="0.62" stroke="#c9a30a" stroke-opacity="0.85" stroke-width="1.3"/><circle cx="974.0" cy="496.7" r="4.55" fill="#374649" fill-opacity="0.66" stroke="#222b2d" stroke-opacity="0.85" stroke-width="1.3"/><circle cx="978.1" cy="501.5" r="4.55" fill="#fd625e" fill-opacity="0.62" stroke="#d9423e" stroke-opacity="0.85" stroke-width="1.3"/><circle cx="991.5" cy="496.0" r="4.55" fill="#5f6b6d" fill-opacity="0.66" stroke="#374649" stroke-opacity="0.85" stroke-width="1.3"/><circle cx="991.1" cy="512.9" r="4.55" fill="#01b8aa" fill-opacity="0.62" stroke="#01968b" stroke-opacity="0.85" stroke-width="1.3"/><circle cx="987.9" cy="521.9" r="4.55" fill="#a66999" fill-opacity="0.62" stroke="#85467a" stroke-opacity="0.85" stroke-width="1.3"/><circle cx="989.7" cy="518.1" r="4.55" fill="#374649" fill-opacity="0.66" stroke="#222b2d" stroke-opacity="0.85" stroke-width="1.3"/><circle cx="967.8" cy="519.7" r="4.55" fill="#a66999" fill-opacity="0.62" stroke="#85467a" stroke-opacity="0.85" stroke-width="1.3"/><circle cx="943.4" cy="526.8" r="4.55" fill="#f2c80f" fill-opacity="0.62" stroke="#c9a30a" stroke-opacity="0.85" stroke-width="1.3"/><circle cx="951.7" cy="525.2" r="7.05" fill="#374649" fill-opacity="0.66" stroke="#222b2d" stroke-opacity="0.85" stroke-width="1.3"/><circle cx="962.9" cy="528.5" r="4.55" fill="#374649" fill-opacity="0.66" stroke="#222b2d" stroke-opacity="0.85" stroke-width="1.3"/><circle cx="970.5" cy="529.6" r="6.05" fill="#5f6b6d" fill-opacity="0.66" stroke="#374649" stroke-opacity="0.85" stroke-width="1.3"/><circle cx="982.1" cy="529.0" r="4.55" fill="#01b8aa" fill-opacity="0.62" stroke="#01968b" stroke-opacity="0.85" stroke-width="1.3"/><circle cx="956.3" cy="540.0" r="6.05" fill="#8ad4eb" fill-opacity="0.62" stroke="#4fb0cc" stroke-opacity="0.85" stroke-width="1.3"/><circle cx="961.2" cy="532.9" r="4.55" fill="#fd625e" fill-opacity="0.62" stroke="#d9423e" stroke-opacity="0.85" stroke-width="1.3"/><circle cx="976.0" cy="534.5" r="4.55" fill="#fe9666" fill-opacity="0.62" stroke="#e0713f" stroke-opacity="0.85" stroke-width="1.3"/><circle cx="982.1" cy="540.0" r="4.55" fill="#8ad4eb" fill-opacity="0.62" stroke="#4fb0cc" stroke-opacity="0.85" stroke-width="1.3"/><circle cx="976.0" cy="543.8" r="4.05" fill="#01b8aa" fill-opacity="0.62" stroke="#01968b" stroke-opacity="0.85" stroke-width="1.3"/><circle cx="967.8" cy="540.5" r="5.05" fill="#fe9666" fill-opacity="0.62" stroke="#e0713f" stroke-opacity="0.85" stroke-width="1.3"/><circle cx="998.5" cy="535.6" r="5.05" fill="#a66999" fill-opacity="0.62" stroke="#85467a" stroke-opacity="0.85" stroke-width="1.3"/><circle cx="994.7" cy="540.0" r="4.55" fill="#f2c80f" fill-opacity="0.62" stroke="#c9a30a" stroke-opacity="0.85" stroke-width="1.3"/><circle cx="965.1" cy="547.1" r="4.55" fill="#374649" fill-opacity="0.66" stroke="#222b2d" stroke-opacity="0.85" stroke-width="1.3"/><circle cx="972.2" cy="548.2" r="4.55" fill="#fdb596" fill-opacity="0.62" stroke="#e08a66" stroke-opacity="0.85" stroke-width="1.3"/><circle cx="980.4" cy="547.1" r="4.05" fill="#fe9666" fill-opacity="0.62" stroke="#e0713f" stroke-opacity="0.85" stroke-width="1.3"/><circle cx="983.7" cy="551.0" r="4.55" fill="#fd625e" fill-opacity="0.62" stroke="#d9423e" stroke-opacity="0.85" stroke-width="1.3"/><circle cx="990.3" cy="548.8" r="4.55" fill="#f2c80f" fill-opacity="0.62" stroke="#c9a30a" stroke-opacity="0.85" stroke-width="1.3"/><circle cx="986.4" cy="554.8" r="4.55" fill="#f2c80f" fill-opacity="0.62" stroke="#c9a30a" stroke-opacity="0.85" stroke-width="1.3"/><circle cx="957.2" cy="549.3" r="4.55" fill="#f2c80f" fill-opacity="0.62" stroke="#c9a30a" stroke-opacity="0.85" stroke-width="1.3"/><circle cx="943.2" cy="554.8" r="4.55" fill="#374649" fill-opacity="0.66" stroke="#222b2d" stroke-opacity="0.85" stroke-width="1.3"/><circle cx="949.7" cy="553.7" r="4.55" fill="#f2c80f" fill-opacity="0.62" stroke="#c9a30a" stroke-opacity="0.85" stroke-width="1.3"/><circle cx="1003.6" cy="555.3" r="4.55" fill="#f2c80f" fill-opacity="0.62" stroke="#c9a30a" stroke-opacity="0.85" stroke-width="1.3"/><circle cx="1000.1" cy="562.5" r="4.05" fill="#8ad4eb" fill-opacity="0.62" stroke="#4fb0cc" stroke-opacity="0.85" stroke-width="1.3"/><circle cx="1004.5" cy="563.6" r="4.55" fill="#fd625e" fill-opacity="0.62" stroke="#d9423e" stroke-opacity="0.85" stroke-width="1.3"/><circle cx="1002.9" cy="568.5" r="4.55" fill="#a66999" fill-opacity="0.62" stroke="#85467a" stroke-opacity="0.85" stroke-width="1.3"/><circle cx="945.9" cy="568.5" r="4.55" fill="#a66999" fill-opacity="0.62" stroke="#85467a" stroke-opacity="0.85" stroke-width="1.3"/><circle cx="968.1" cy="564.1" r="4.55" fill="#fd625e" fill-opacity="0.62" stroke="#d9423e" stroke-opacity="0.85" stroke-width="1.3"/><circle cx="958.5" cy="574.0" r="4.55" fill="#fd625e" fill-opacity="0.62" stroke="#d9423e" stroke-opacity="0.85" stroke-width="1.3"/><circle cx="979.9" cy="575.6" r="4.55" fill="#8ad4eb" fill-opacity="0.62" stroke="#4fb0cc" stroke-opacity="0.85" stroke-width="1.3"/><circle cx="996.6" cy="575.6" r="4.55" fill="#5f6b6d" fill-opacity="0.66" stroke="#374649" stroke-opacity="0.85" stroke-width="1.3"/><circle cx="1049.1" cy="538.3" r="4.55" fill="#5f6b6d" fill-opacity="0.66" stroke="#374649" stroke-opacity="0.85" stroke-width="1.3"/><circle cx="1015.4" cy="549.5" r="4.55" fill="#01b8aa" fill-opacity="0.62" stroke="#01968b" stroke-opacity="0.85" stroke-width="1.3"/><circle cx="1022.5" cy="553.3" r="4.55" fill="#01b8aa" fill-opacity="0.62" stroke="#01968b" stroke-opacity="0.85" stroke-width="1.3"/><circle cx="1018.1" cy="553.6" r="4.55" fill="#fe9666" fill-opacity="0.62" stroke="#e0713f" stroke-opacity="0.85" stroke-width="1.3"/><circle cx="1043.3" cy="550.6" r="4.55" fill="#5f6b6d" fill-opacity="0.66" stroke="#374649" stroke-opacity="0.85" stroke-width="1.3"/><circle cx="1037.8" cy="555.5" r="4.55" fill="#5f6b6d" fill-opacity="0.66" stroke="#374649" stroke-opacity="0.85" stroke-width="1.3"/><circle cx="1059.2" cy="551.1" r="4.55" fill="#a66999" fill-opacity="0.62" stroke="#85467a" stroke-opacity="0.85" stroke-width="1.3"/><circle cx="1054.3" cy="556.9" r="4.55" fill="#fe9666" fill-opacity="0.62" stroke="#e0713f" stroke-opacity="0.85" stroke-width="1.3"/><circle cx="1016.4" cy="565.9" r="5.55" fill="#fd625e" fill-opacity="0.62" stroke="#d9423e" stroke-opacity="0.85" stroke-width="1.3"/><circle cx="1030.7" cy="566.8" r="5.55" fill="#374649" fill-opacity="0.66" stroke="#222b2d" stroke-opacity="0.85" stroke-width="1.3"/><circle cx="1047.1" cy="564.3" r="5.55" fill="#01b8aa" fill-opacity="0.62" stroke="#01968b" stroke-opacity="0.85" stroke-width="1.3"/><circle cx="1051.0" cy="572.3" r="4.55" fill="#f2c80f" fill-opacity="0.62" stroke="#c9a30a" stroke-opacity="0.85" stroke-width="1.3"/><circle cx="1021.7" cy="572.5" r="4.55" fill="#fe9666" fill-opacity="0.62" stroke="#e0713f" stroke-opacity="0.85" stroke-width="1.3"/><circle cx="1017.0" cy="580.2" r="5.55" fill="#374649" fill-opacity="0.66" stroke="#222b2d" stroke-opacity="0.85" stroke-width="1.3"/><circle cx="1026.3" cy="578.5" r="4.55" fill="#f2c80f" fill-opacity="0.62" stroke="#c9a30a" stroke-opacity="0.85" stroke-width="1.3"/><circle cx="1031.8" cy="580.7" r="4.55" fill="#01b8aa" fill-opacity="0.62" stroke="#01968b" stroke-opacity="0.85" stroke-width="1.3"/><circle cx="1033.4" cy="586.2" r="4.55" fill="#fd625e" fill-opacity="0.62" stroke="#d9423e" stroke-opacity="0.85" stroke-width="1.3"/><circle cx="1071.8" cy="573.6" r="4.55" fill="#f2c80f" fill-opacity="0.62" stroke="#c9a30a" stroke-opacity="0.85" stroke-width="1.3"/><circle cx="1081.7" cy="574.7" r="4.55" fill="#8ad4eb" fill-opacity="0.62" stroke="#4fb0cc" stroke-opacity="0.85" stroke-width="1.3"/><circle cx="1066.3" cy="582.9" r="7.55" fill="#a66999" fill-opacity="0.62" stroke="#85467a" stroke-opacity="0.85" stroke-width="1.3"/><circle cx="1081.1" cy="580.7" r="4.55" fill="#374649" fill-opacity="0.66" stroke="#222b2d" stroke-opacity="0.85" stroke-width="1.3"/><circle cx="1089.9" cy="584.6" r="4.55" fill="#5f6b6d" fill-opacity="0.66" stroke="#374649" stroke-opacity="0.85" stroke-width="1.3"/><circle cx="1082.5" cy="574.7" r="4.55" fill="#8ad4eb" fill-opacity="0.62" stroke="#4fb0cc" stroke-opacity="0.85" stroke-width="1.3"/><circle cx="1098.1" cy="540.7" r="4.55" fill="#8ad4eb" fill-opacity="0.62" stroke="#4fb0cc" stroke-opacity="0.85" stroke-width="1.3"/><circle cx="1094.8" cy="504.5" r="7.35" fill="#fe9666" fill-opacity="0.62" stroke="#e0713f" stroke-opacity="0.85" stroke-width="1.3"/><circle cx="1100.0" cy="560.4" r="7.35" fill="#fe9666" fill-opacity="0.62" stroke="#e0713f" stroke-opacity="0.85" stroke-width="1.3"/><circle cx="1133.9" cy="560.4" r="4.55" fill="#01b8aa" fill-opacity="0.62" stroke="#01968b" stroke-opacity="0.85" stroke-width="1.3"/><circle cx="1147.9" cy="559.9" r="5.55" fill="#fd625e" fill-opacity="0.62" stroke="#d9423e" stroke-opacity="0.85" stroke-width="1.3"/><circle cx="1095.6" cy="594.4" r="4.55" fill="#a66999" fill-opacity="0.62" stroke="#85467a" stroke-opacity="0.85" stroke-width="1.3"/><circle cx="1101.4" cy="598.5" r="4.55" fill="#a66999" fill-opacity="0.62" stroke="#85467a" stroke-opacity="0.85" stroke-width="1.3"/><circle cx="1106.3" cy="592.3" r="4.55" fill="#fe9666" fill-opacity="0.62" stroke="#e0713f" stroke-opacity="0.85" stroke-width="1.3"/><circle cx="1100.0" cy="588.3" r="4.55" fill="#01b8aa" fill-opacity="0.62" stroke="#01968b" stroke-opacity="0.85" stroke-width="1.3"/><circle cx="1114.2" cy="583.4" r="4.85" fill="#374649" fill-opacity="0.66" stroke="#222b2d" stroke-opacity="0.85" stroke-width="1.3"/><circle cx="1124.1" cy="580.7" r="4.55" fill="#8ad4eb" fill-opacity="0.62" stroke="#4fb0cc" stroke-opacity="0.85" stroke-width="1.3"/><circle cx="1124.7" cy="592.3" r="4.55" fill="#a66999" fill-opacity="0.62" stroke="#85467a" stroke-opacity="0.85" stroke-width="1.3"/><circle cx="1067.8" cy="604.5" r="4.55" fill="#5f6b6d" fill-opacity="0.66" stroke="#374649" stroke-opacity="0.85" stroke-width="1.3"/><circle cx="1100.1" cy="613.6" r="4.55" fill="#fe9666" fill-opacity="0.62" stroke="#e0713f" stroke-opacity="0.85" stroke-width="1.3"/><circle cx="1115.5" cy="608.4" r="4.55" fill="#fd625e" fill-opacity="0.62" stroke="#d9423e" stroke-opacity="0.85" stroke-width="1.3"/><circle cx="1115.5" cy="609.5" r="3.75" fill="#8ad4eb" fill-opacity="0.62" stroke="#4fb0cc" stroke-opacity="0.85" stroke-width="1.3"/><circle cx="1114.8" cy="615.5" r="4.55" fill="#01b8aa" fill-opacity="0.62" stroke="#01968b" stroke-opacity="0.85" stroke-width="1.3"/><circle cx="922.5" cy="594.0" r="4.55" fill="#fd625e" fill-opacity="0.62" stroke="#d9423e" stroke-opacity="0.85" stroke-width="1.3"/><circle cx="940.3" cy="586.2" r="4.55" fill="#01b8aa" fill-opacity="0.62" stroke="#01968b" stroke-opacity="0.85" stroke-width="1.3"/><circle cx="949.9" cy="590.3" r="4.55" fill="#fe9666" fill-opacity="0.62" stroke="#e0713f" stroke-opacity="0.85" stroke-width="1.3"/><circle cx="968.0" cy="590.5" r="4.55" fill="#a66999" fill-opacity="0.62" stroke="#85467a" stroke-opacity="0.85" stroke-width="1.3"/><circle cx="981.0" cy="593.3" r="4.55" fill="#5f6b6d" fill-opacity="0.66" stroke="#374649" stroke-opacity="0.85" stroke-width="1.3"/><circle cx="996.7" cy="592.6" r="4.55" fill="#fe9666" fill-opacity="0.62" stroke="#e0713f" stroke-opacity="0.85" stroke-width="1.3"/><circle cx="1009.0" cy="593.3" r="4.55" fill="#a66999" fill-opacity="0.62" stroke="#85467a" stroke-opacity="0.85" stroke-width="1.3"/><circle cx="1021.2" cy="591.9" r="4.55" fill="#a66999" fill-opacity="0.62" stroke="#85467a" stroke-opacity="0.85" stroke-width="1.3"/><circle cx="1015.2" cy="598.1" r="4.55" fill="#01b8aa" fill-opacity="0.62" stroke="#01968b" stroke-opacity="0.85" stroke-width="1.3"/><circle cx="1009.7" cy="602.9" r="4.55" fill="#5f6b6d" fill-opacity="0.66" stroke="#374649" stroke-opacity="0.85" stroke-width="1.3"/><circle cx="1026.2" cy="598.5" r="4.55" fill="#374649" fill-opacity="0.66" stroke="#222b2d" stroke-opacity="0.85" stroke-width="1.3"/><circle cx="932.3" cy="597.4" r="4.55" fill="#01b8aa" fill-opacity="0.62" stroke="#01968b" stroke-opacity="0.85" stroke-width="1.3"/><circle cx="934.4" cy="594.7" r="4.55" fill="#fd625e" fill-opacity="0.62" stroke="#d9423e" stroke-opacity="0.85" stroke-width="1.3"/><circle cx="939.9" cy="600.4" r="4.55" fill="#a66999" fill-opacity="0.62" stroke="#85467a" stroke-opacity="0.85" stroke-width="1.3"/><circle cx="941.9" cy="606.3" r="4.55" fill="#374649" fill-opacity="0.66" stroke="#222b2d" stroke-opacity="0.85" stroke-width="1.3"/><circle cx="947.4" cy="604.2" r="4.55" fill="#a66999" fill-opacity="0.62" stroke="#85467a" stroke-opacity="0.85" stroke-width="1.3"/><circle cx="953.6" cy="604.9" r="4.55" fill="#fd625e" fill-opacity="0.62" stroke="#d9423e" stroke-opacity="0.85" stroke-width="1.3"/><circle cx="952.2" cy="597.4" r="4.55" fill="#374649" fill-opacity="0.66" stroke="#222b2d" stroke-opacity="0.85" stroke-width="1.3"/><circle cx="959.7" cy="602.2" r="4.55" fill="#01b8aa" fill-opacity="0.62" stroke="#01968b" stroke-opacity="0.85" stroke-width="1.3"/><circle cx="966.3" cy="601.2" r="4.55" fill="#01b8aa" fill-opacity="0.62" stroke="#01968b" stroke-opacity="0.85" stroke-width="1.3"/><circle cx="972.7" cy="606.7" r="4.55" fill="#01b8aa" fill-opacity="0.62" stroke="#01968b" stroke-opacity="0.85" stroke-width="1.3"/><circle cx="983.3" cy="605.9" r="4.55" fill="#f2c80f" fill-opacity="0.62" stroke="#c9a30a" stroke-opacity="0.85" stroke-width="1.3"/><circle cx="963.2" cy="614.5" r="4.55" fill="#01b8aa" fill-opacity="0.62" stroke="#01968b" stroke-opacity="0.85" stroke-width="1.3"/><circle cx="970.0" cy="613.2" r="4.55" fill="#fe9666" fill-opacity="0.62" stroke="#e0713f" stroke-opacity="0.85" stroke-width="1.3"/><circle cx="971.8" cy="616.6" r="4.55" fill="#fe9666" fill-opacity="0.62" stroke="#e0713f" stroke-opacity="0.85" stroke-width="1.3"/><circle cx="987.4" cy="619.3" r="4.55" fill="#1f5d5a" fill-opacity="0.66" stroke="#123b39" stroke-opacity="0.85" stroke-width="1.3"/><circle cx="996.7" cy="620.4" r="4.55" fill="#8ad4eb" fill-opacity="0.62" stroke="#4fb0cc" stroke-opacity="0.85" stroke-width="1.3"/><circle cx="1000.1" cy="613.6" r="4.55" fill="#fe9666" fill-opacity="0.62" stroke="#e0713f" stroke-opacity="0.85" stroke-width="1.3"/><circle cx="1008.8" cy="614.5" r="4.55" fill="#8ad4eb" fill-opacity="0.62" stroke="#4fb0cc" stroke-opacity="0.85" stroke-width="1.3"/><circle cx="979.2" cy="632.3" r="4.55" fill="#5f6b6d" fill-opacity="0.66" stroke="#374649" stroke-opacity="0.85" stroke-width="1.3"/><circle cx="993.7" cy="633.7" r="4.55" fill="#5f6b6d" fill-opacity="0.66" stroke="#374649" stroke-opacity="0.85" stroke-width="1.3"/><circle cx="1002.9" cy="633.7" r="4.55" fill="#5f6b6d" fill-opacity="0.66" stroke="#374649" stroke-opacity="0.85" stroke-width="1.3"/><circle cx="1004.9" cy="640.1" r="4.55" fill="#01b8aa" fill-opacity="0.62" stroke="#01968b" stroke-opacity="0.85" stroke-width="1.3"/><circle cx="1015.6" cy="631.6" r="4.55" fill="#01b8aa" fill-opacity="0.62" stroke="#01968b" stroke-opacity="0.85" stroke-width="1.3"/><circle cx="996.7" cy="642.3" r="4.55" fill="#fd625e" fill-opacity="0.62" stroke="#d9423e" stroke-opacity="0.85" stroke-width="1.3"/><circle cx="978.9" cy="646.7" r="4.55" fill="#fd625e" fill-opacity="0.62" stroke="#d9423e" stroke-opacity="0.85" stroke-width="1.3"/><circle cx="988.5" cy="646.7" r="4.55" fill="#01b8aa" fill-opacity="0.62" stroke="#01968b" stroke-opacity="0.85" stroke-width="1.3"/><circle cx="998.8" cy="653.6" r="4.55" fill="#374649" fill-opacity="0.66" stroke="#222b2d" stroke-opacity="0.85" stroke-width="1.3"/><circle cx="989.9" cy="657.4" r="4.55" fill="#fd625e" fill-opacity="0.62" stroke="#d9423e" stroke-opacity="0.85" stroke-width="1.3"/><circle cx="995.3" cy="658.8" r="4.55" fill="#f2c80f" fill-opacity="0.62" stroke="#c9a30a" stroke-opacity="0.85" stroke-width="1.3"/><circle cx="1019.9" cy="642.9" r="4.55" fill="#f2c80f" fill-opacity="0.62" stroke="#c9a30a" stroke-opacity="0.85" stroke-width="1.3"/><circle cx="1032.6" cy="621.8" r="4.55" fill="#5f6b6d" fill-opacity="0.66" stroke="#374649" stroke-opacity="0.85" stroke-width="1.3"/><circle cx="1032.6" cy="644.7" r="4.55" fill="#374649" fill-opacity="0.66" stroke="#222b2d" stroke-opacity="0.85" stroke-width="1.3"/><circle cx="1036.0" cy="644.0" r="4.55" fill="#374649" fill-opacity="0.66" stroke="#222b2d" stroke-opacity="0.85" stroke-width="1.3"/><text x="1019.5" y="700.7" font-size="9.6" fill="#333" stroke="#fff" stroke-opacity="0.6" stroke-width="1.5" paint-order="stroke" textLength="173" lengthAdjust="spacingAndGlyphs">© 2018 HERE,© 2018 Microsoft Corporation</text><text x="1198" y="700.7" font-size="9.6" fill="#4a62b0" text-decoration="underline" textLength="25" lengthAdjust="spacingAndGlyphs">Terms</text><line x1="1198" y1="702.2" x2="1223" y2="702.2" stroke="#4a62b0" stroke-width="0.8"/><path d="M718.1,681.6 L721.7,682.9 L721.7,692.2 L725.4,690.1 L723.1,689.0 L722.2,686.9 L731.2,690.0 L731.2,692.3 L721.8,697.4 L718.1,695.9 Z" fill="#111"/><text x="733.8" y="694.7" font-size="13.6" fill="#222" textLength="25.3" lengthAdjust="spacingAndGlyphs">Bing</text></g><rect x="1247.3" y="425" width="0.8" height="283" fill="#c9d9f0"/><rect x="0.5" y="0.5" width="1262" height="729" fill="none" stroke="#000" stroke-width="1"/><line x1="1.5" y1="1" x2="1.5" y2="729" stroke="#d8d8d8" stroke-width="1"/>
</svg></body></html>
